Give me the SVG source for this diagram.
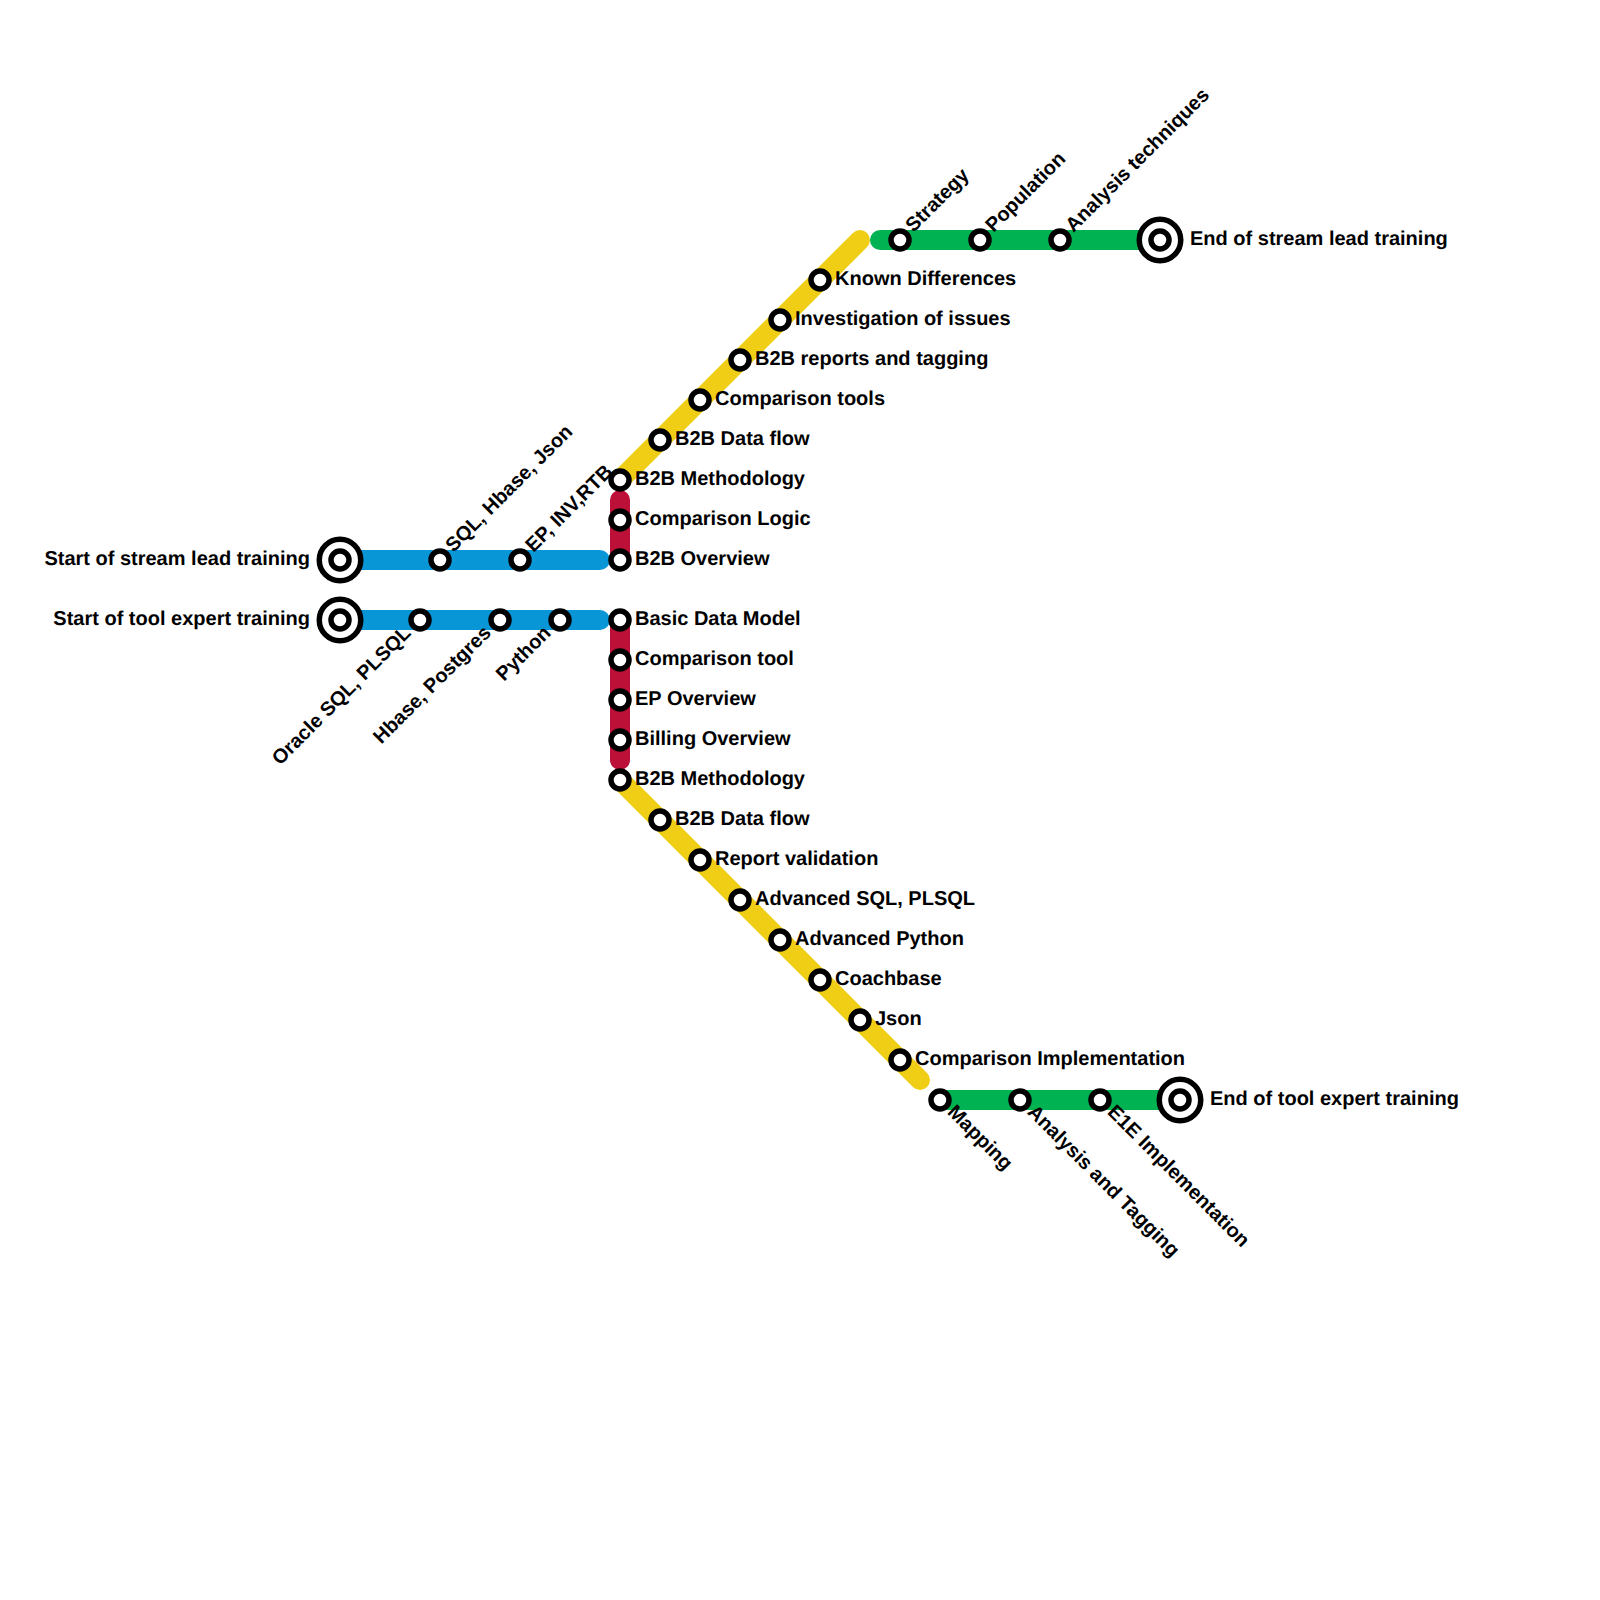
<svg xmlns="http://www.w3.org/2000/svg" width="1600" height="1600" viewBox="0 0 1600 1600">
<style>
.l{fill:none;stroke-width:20;stroke-linecap:round}
.b{stroke:#0896d7}.r{stroke:#bd1038}.y{stroke:#f0ce15}.g{stroke:#00b251}
.s{fill:#fff;stroke:#000;stroke-width:5.5}
text{font-family:"Liberation Sans",Arial,sans-serif;font-weight:700;font-size:20px;fill:#000;text-rendering:geometricPrecision}
.e{text-anchor:end}
</style>
<defs>
<circle id="st" class="s" r="9"/>
<g id="te"><circle class="s" r="20.75"/><circle class="s" r="9"/></g>
</defs>
<rect width="1600" height="1600" fill="#fff"/>
<g id="connectors">
<path class="l b" d="M340 560H600"/>
<path class="l b" d="M340 620H600"/>
<path class="l r" d="M620 500V560"/>
<path class="l r" d="M620 620V760"/>
<path class="l y" d="M620 480L860 240"/>
<path class="l y" d="M620 780L920 1080"/>
<path class="l g" d="M880 240H1160"/>
<path class="l g" d="M940 1100H1180"/>
</g>
<g id="n1"><use href="#te" x="340" y="560"/><text class="e" x="310" y="565">Start of stream lead training</text></g>
<g id="n2"><use href="#te" x="340" y="620"/><text class="e" x="310" y="625">Start of tool expert training</text></g>
<g id="n3"><use href="#st" x="440" y="560"/><text transform="translate(453.5 553) rotate(-45)">SQL, Hbase, Json</text></g>
<g id="n4"><use href="#st" x="520" y="560"/><text transform="translate(533.5 553) rotate(-45)">EP, INV,RTB</text></g>
<g id="n5"><use href="#st" x="420" y="620"/><text class="e" transform="translate(412 634) rotate(-45)">Oracle SQL, PLSQL</text></g>
<g id="n6"><use href="#st" x="500" y="620"/><text class="e" transform="translate(492 634) rotate(-45)">Hbase, Postgres</text></g>
<g id="n7"><use href="#st" x="560" y="620"/><text class="e" transform="translate(552 634) rotate(-45)">Python</text></g>
<g id="n8"><use href="#st" x="620" y="480"/><text x="635" y="485">B2B Methodology</text></g>
<g id="n9"><use href="#st" x="620" y="520"/><text x="635" y="525">Comparison Logic</text></g>
<g id="n10"><use href="#st" x="620" y="560"/><text x="635" y="565">B2B Overview</text></g>
<g id="n11"><use href="#st" x="620" y="620"/><text x="635" y="625">Basic Data Model</text></g>
<g id="n12"><use href="#st" x="620" y="660"/><text x="635" y="665">Comparison tool</text></g>
<g id="n13"><use href="#st" x="620" y="700"/><text x="635" y="705">EP Overview</text></g>
<g id="n14"><use href="#st" x="620" y="740"/><text x="635" y="745">Billing Overview</text></g>
<g id="n15"><use href="#st" x="620" y="780"/><text x="635" y="785">B2B Methodology</text></g>
<g id="n16"><use href="#st" x="660" y="440"/><text x="675" y="445">B2B Data flow</text></g>
<g id="n17"><use href="#st" x="700" y="400"/><text x="715" y="405">Comparison tools</text></g>
<g id="n18"><use href="#st" x="740" y="360"/><text x="755" y="365">B2B reports and tagging</text></g>
<g id="n19"><use href="#st" x="780" y="320"/><text x="795" y="325">Investigation of issues</text></g>
<g id="n20"><use href="#st" x="820" y="280"/><text x="835" y="285">Known Differences</text></g>
<g id="n21"><use href="#st" x="900" y="240"/><text transform="translate(913.5 233) rotate(-45)">Strategy</text></g>
<g id="n22"><use href="#st" x="980" y="240"/><text transform="translate(993.5 233) rotate(-45)">Population</text></g>
<g id="n23"><use href="#st" x="1060" y="240"/><text transform="translate(1073.5 233) rotate(-45)">Analysis techniques</text></g>
<g id="n24"><use href="#te" x="1160" y="240"/><text x="1190" y="245">End of stream lead training</text></g>
<g id="n25"><use href="#st" x="660" y="820"/><text x="675" y="825">B2B Data flow</text></g>
<g id="n26"><use href="#st" x="700" y="860"/><text x="715" y="865">Report validation</text></g>
<g id="n27"><use href="#st" x="740" y="900"/><text x="755" y="905">Advanced SQL, PLSQL</text></g>
<g id="n28"><use href="#st" x="780" y="940"/><text x="795" y="945">Advanced Python</text></g>
<g id="n29"><use href="#st" x="820" y="980"/><text x="835" y="985">Coachbase</text></g>
<g id="n30"><use href="#st" x="860" y="1020"/><text x="875" y="1025">Json</text></g>
<g id="n31"><use href="#st" x="900" y="1060"/><text x="915" y="1065">Comparison Implementation</text></g>
<g id="n32"><use href="#st" x="940" y="1100"/><text transform="translate(946.5 1113) rotate(45)">Mapping</text></g>
<g id="n33"><use href="#st" x="1020" y="1100"/><text transform="translate(1026.5 1113) rotate(45)">Analysis and Tagging</text></g>
<g id="n34"><use href="#st" x="1100" y="1100"/><text transform="translate(1106.5 1113) rotate(45)">E1E Implementation</text></g>
<g id="n35"><use href="#te" x="1180" y="1100"/><text x="1210" y="1105">End of tool expert training</text></g>
</svg>
